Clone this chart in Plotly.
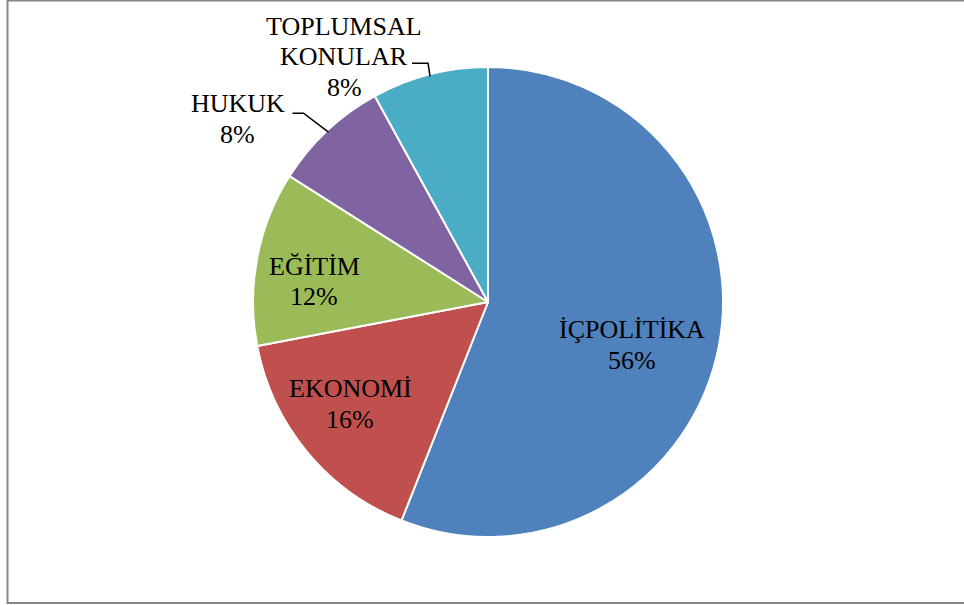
import math
import plotly.graph_objects as go

# ---- data ----
categories = ["İÇPOLİTİKA", "EKONOMİ", "EĞİTİM", "HUKUK", "TOPLUMSAL KONULAR"]
label_lines = [["İÇPOLİTİKA"], ["EKONOMİ"], ["EĞİTİM"], ["HUKUK"], ["TOPLUMSAL", "KONULAR"]]
values = [56, 16, 12, 8, 8]
colors = ["#4F81BD", "#C0504D", "#9BBB59", "#8064A2", "#4BACC6"]

# ---- label placement style (angle offset from slice middle in deg, radius factor,
#      leader: (elbow dx, elbow dy from slice edge, horizontal length) or None) ----
label_style = [
    (5.8, 0.64, None),
    (3.1, 0.73, None),
    (-4.1, 0.745, None),
    (-10.6, 1.32, (-25, -19, 11)),
    (-16.0, 1.21, (-2, -13, 16)),
]

W, H = 964, 605
CX, CY, R = 488, 302, 235
FONT = "Liberation Serif"
FS = 26
LINE_H = 30.5

def px(x):
    return x / W

def py(y):
    return 1 - y / H

fig = go.Figure(go.Pie(
    labels=categories,
    values=values,
    sort=False,
    direction="clockwise",
    rotation=0,
    marker=dict(colors=colors, line=dict(color="white", width=2)),
    textinfo="none",
    hoverinfo="label+percent",
    domain=dict(x=[px(CX - R), px(CX + R)], y=[py(CY + R), py(CY - R)]),
    showlegend=False,
))

total = sum(values)
annotations = []
shapes = []
cum = 0.0
for i, v in enumerate(values):
    frac = v / total
    mid = (cum + frac / 2) * 360.0
    cum += frac
    d_ang, rf, leader = label_style[i]
    a = math.radians(mid + d_ang)
    bx = CX + rf * R * math.sin(a)
    by = CY - rf * R * math.cos(a)
    pct = f"{round(frac * 100):.0f}%"
    lines = label_lines[i] + [pct]
    n = len(lines)
    for k, t in enumerate(lines):
        ly = by + (k - (n - 1) / 2) * LINE_H
        annotations.append(dict(
            x=px(bx), y=py(ly), xref="paper", yref="paper",
            text=t, showarrow=False, xanchor="center", yanchor="middle",
            font=dict(family=FONT, size=FS, color="black"),
        ))
    if leader:
        edx, edy, L2 = leader
        am = math.radians(mid)
        ex = CX + (R - 2) * math.sin(am)
        ey = CY - (R - 2) * math.cos(am)
        elx = ex + edx
        ely = ey + edy
        sx = elx - L2
        path = f"M {px(ex)},{py(ey)} L {px(elx)},{py(ely)} L {px(sx)},{py(ely)}"
        shapes.append(dict(type="path", xref="paper", yref="paper", path=path,
                           line=dict(color="black", width=1.5)))

# chart frame
shapes.append(dict(type="rect", xref="paper", yref="paper",
                   x0=px(7.5), x1=px(975), y0=py(603), y1=py(0.5),
                   line=dict(color="#878787", width=2), fillcolor="rgba(0,0,0,0)"))

fig.update_layout(
    width=W, height=H,
    margin=dict(l=0, r=0, t=0, b=0),
    paper_bgcolor="white",
    plot_bgcolor="white",
    annotations=annotations,
    shapes=shapes,
    font=dict(family=FONT),
)

fig.write_html("out.html", config={"displayModeBar": False},
               post_script="document.body.style.margin='0';")
